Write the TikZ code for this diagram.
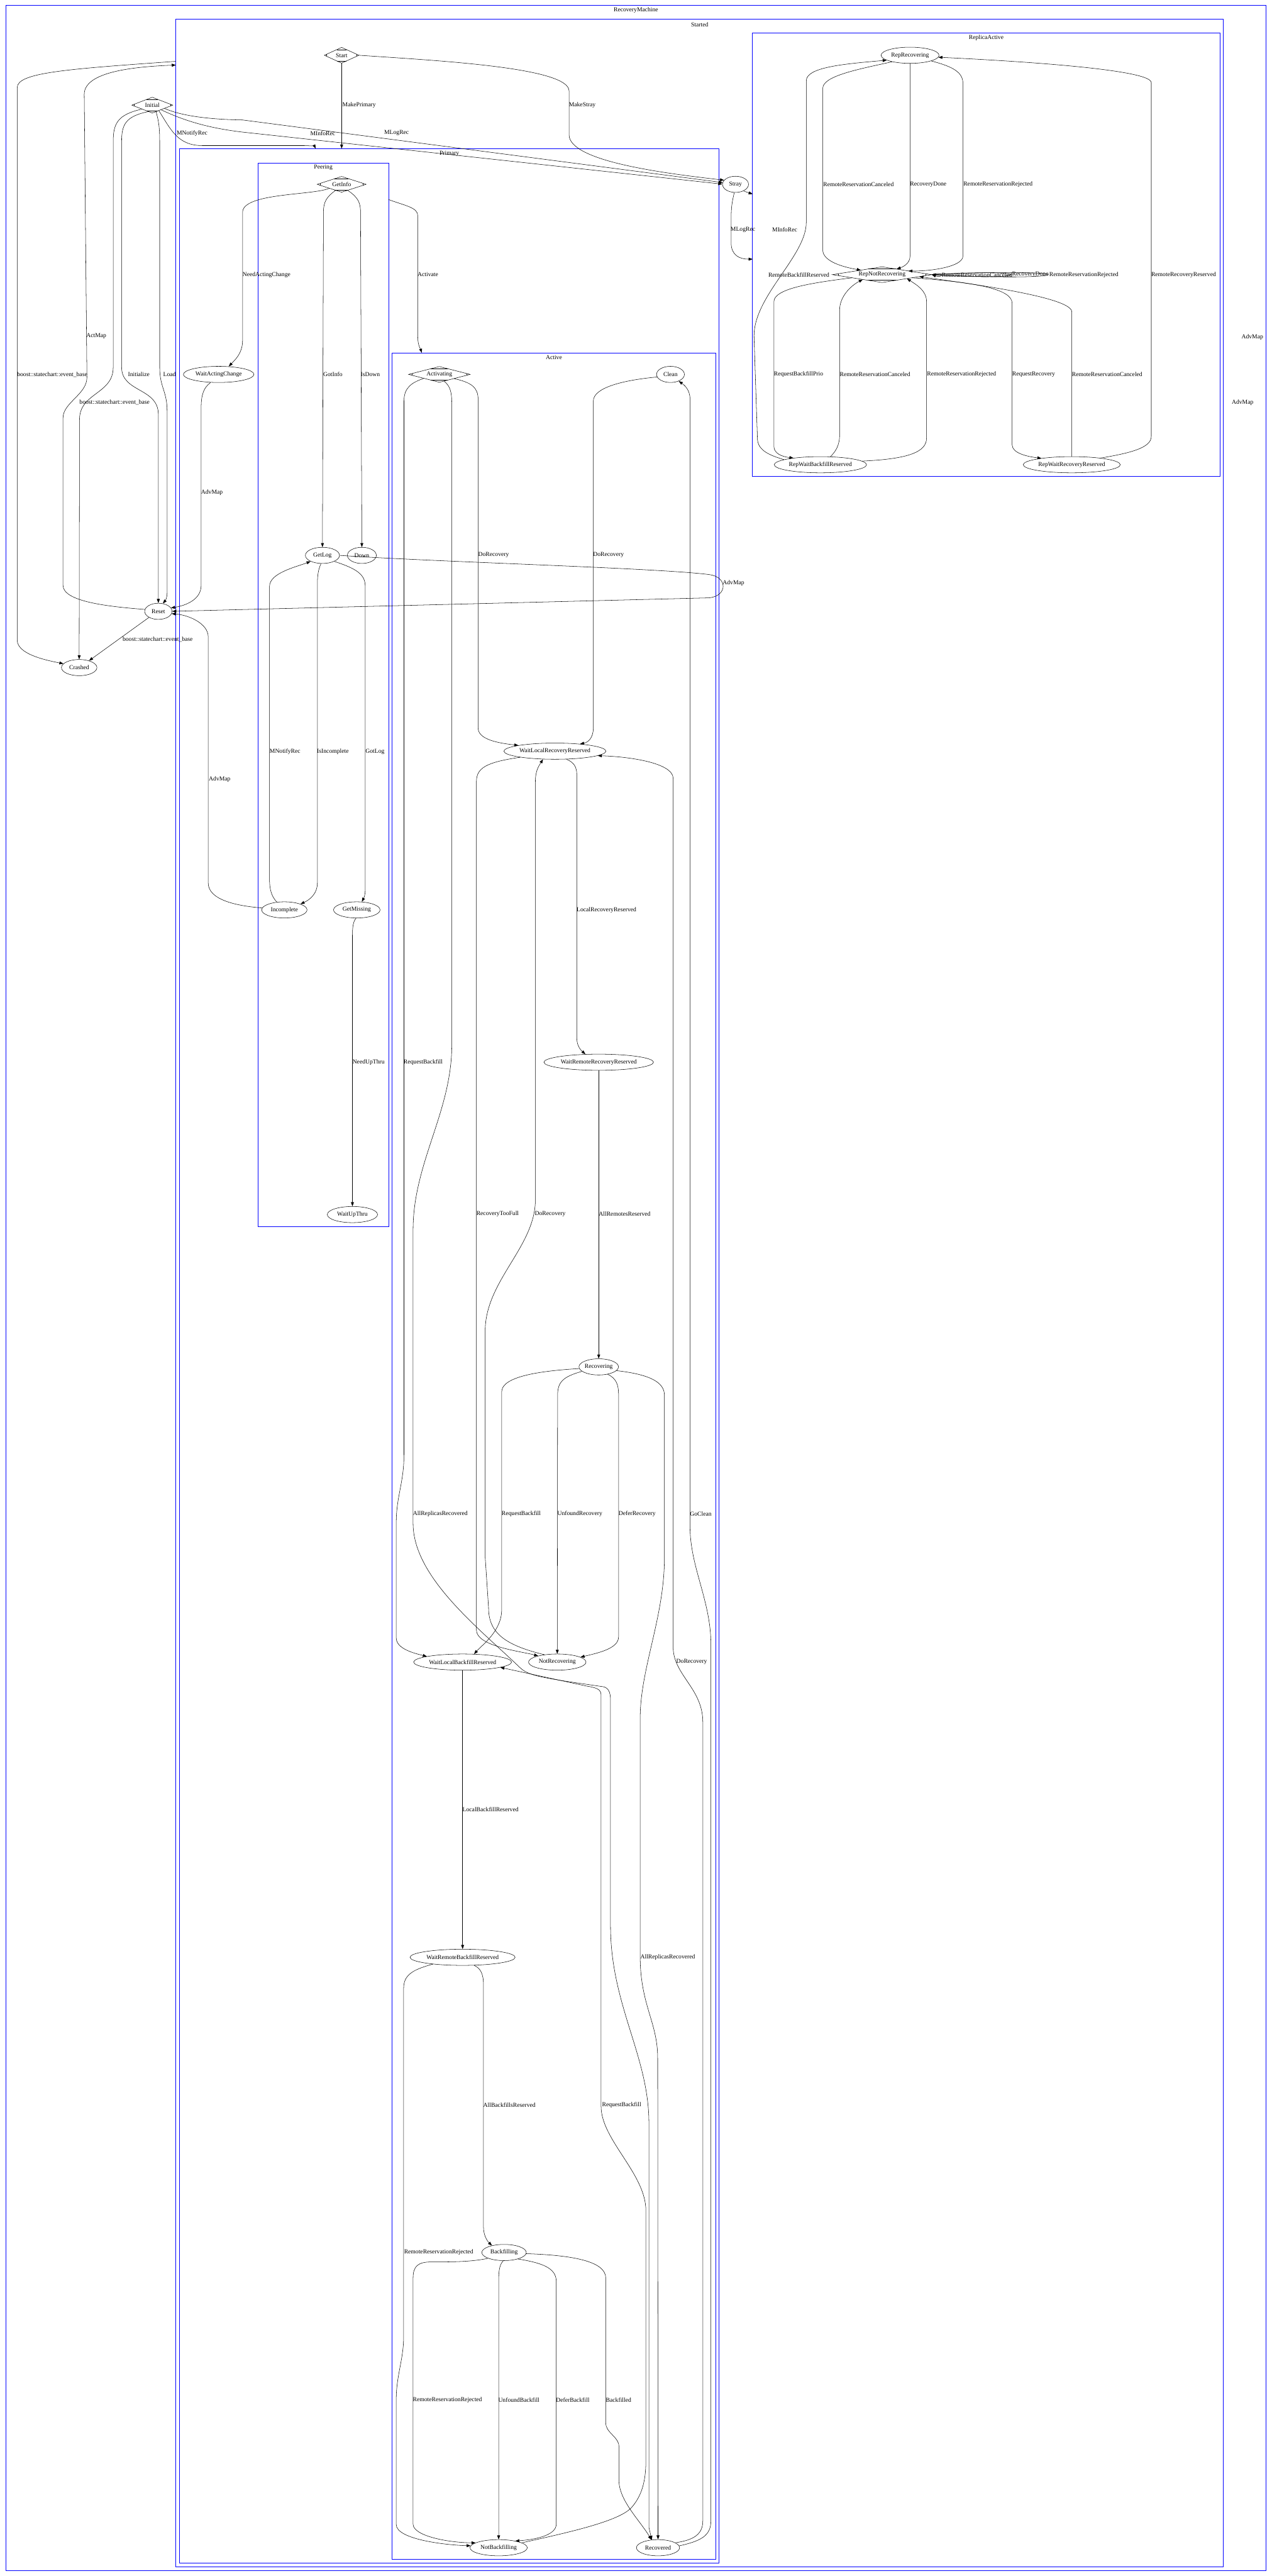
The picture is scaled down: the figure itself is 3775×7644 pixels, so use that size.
\documentclass[tikz,border=0pt]{standalone}
\usepackage{fontspec}
\setmainfont{Liberation Serif}
\usetikzlibrary{shapes.geometric, arrows.meta, fit, calc}
\tikzset{
    font=\fontsize{13.5}{16}\selectfont,
    >={Triangle[length=9pt, width=6.5pt]},
    % Clusters
    clus/.style={draw=blue, line width=0.8pt, inner sep=0pt},
    % States
    st/.style={ellipse, draw, line width=0.75pt, inner sep=0pt, minimum height=36pt},
    mdia/.style={diamond, draw, line width=0.75pt, inner sep=0pt, outer sep=0pt, minimum height=35pt},
    % Flow & Labels
    flow/.style={->, line width=0.75pt},
    lbl/.style={inner sep=0pt, align=center}
}
% corner marks of an Mdiamond
\newcommand{\mdmarks}[1]{%
  \draw[line width=0.75pt] ($(#1.north)!.28!(#1.west)$) -- ($(#1.north)!.28!(#1.east)$)
    ($(#1.south)!.28!(#1.west)$) -- ($(#1.south)!.28!(#1.east)$)
    ($(#1.west)!.12!(#1.north)$) -- ($(#1.west)!.12!(#1.south)$)
    ($(#1.east)!.12!(#1.north)$) -- ($(#1.east)!.12!(#1.south)$);}

\begin{document}
\begin{tikzpicture}[x=0.75pt, y=-0.75pt]

\fill[white] (0,0) rectangle (3775,7644);
\useasboundingbox (0,0) rectangle (3775,7644);

% Clusters
\node[clus, fit={(17,15) (3758,7628)}] (recm) {};
\node[clus, fit={(522,57) (3631,7616)}] (started) {};
\node[clus, fit={(2233,98) (3621,1413)}] (replica) {};
\node[clus, fit={(533,441) (2134,7606)}] (primary) {};
\node[clus, fit={(766,483) (1153,3639)}] (peering) {};
\node[clus, fit={(1164,1047) (2124,7594)}] (active) {};
\node[lbl] at ($(recm.north)+(0,16)$) {RecoveryMachine};
\node[lbl] at ($(started.north)+(0,16)$) {Started};
\node[lbl] at ($(replica.north)+(0,15)$) {ReplicaActive};
\node[lbl] at ($(primary.north)+(0,15)$) {Primary};
\node[lbl] at ($(peering.north)+(0,15)$) {Peering};
\node[lbl] at ($(active.north)+(0,15)$) {Active};

% States
\node[st, minimum width=79pt] (crashed) at (235,1981) {Crashed};
\node[mdia, minimum width=91pt, aspect=2.6] (initial) at (452,312) {Initial};
\node[st, minimum width=61pt] (reset) at (470,1814) {Reset};
\node[mdia, minimum width=77pt, aspect=2.2] (start) at (1014,164) {Start};
\node[st, minimum width=58pt] (stray) at (2183,547) {Stray};
\node[mdia, minimum width=109pt, aspect=3.1] (getinfo) at (1014,547) {GetInfo};
\node[st, minimum width=76pt] (getlog) at (957,1648) {GetLog};
\node[st, minimum width=64.5pt] (down) at (1074,1648) {Down};
\node[st, minimum width=101pt] (incomplete) at (844,2700) {Incomplete};
\node[st, minimum width=103.5pt] (getmissing) at (1059,2700) {GetMissing};
\node[st, minimum width=112pt] (waitupthru) at (1046,3604) {WaitUpThru};
\node[st, minimum width=157pt] (waitacting) at (649,1111) {WaitActingChange};
\node[mdia, minimum width=137pt, aspect=3.9] (activating) at (1304,1111) {Activating};
\node[st, minimum width=62pt] (clean) at (1990,1111) {Clean};
\node[st, minimum width=227pt] (wlrr) at (1647,2229) {WaitLocalRecoveryReserved};
\node[st, minimum width=244pt] (wrrr) at (1777,3152) {WaitRemoteRecoveryReserved};
\node[st, minimum width=88pt] (recovering) at (1777,4056) {Recovering};
\node[st, minimum width=218pt] (wlbr) at (1373,4932) {WaitLocalBackfillReserved};
\node[st, minimum width=128pt] (notrec) at (1654,4932) {NotRecovering};
\node[st, minimum width=234pt] (wrbr) at (1373,5808) {WaitRemoteBackfillReserved};
\node[st, minimum width=99pt] (backfilling) at (1496,6684) {Backfilling};
\node[st, minimum width=127.5pt] (notbf) at (1480,7560) {NotBackfilling};
\node[st, minimum width=96pt] (recovered) at (1953,7560) {Recovered};
\node[st, minimum width=129pt] (reprec) at (2701,164) {RepRecovering};
\node[mdia, minimum width=221pt, aspect=6.3] (repnot) at (2618,815) {RepNotRecovering};
\node[st, minimum width=205.5pt] (repwbr) at (2435,1379) {RepWaitBackfillReserved};
\node[st, minimum width=216pt] (repwrr) at (3181,1379) {RepWaitRecoveryReserved};
\foreach \d in {initial, start, getinfo, activating, repnot} \mdmarks{\d};

% Points on cluster borders
\coordinate (stL) at (522,182);
\coordinate (stA) at (522,193);
\coordinate (prA) at (937,441);
\coordinate (prB) at (1014,441);
\coordinate (peA) at (1153,592);
\coordinate (acA) at (1252,1047);
\coordinate (raA) at (2234,769);
\coordinate (raB) at (2234,576);

% RecoveryMachine
\draw[flow] (stL) .. controls (200,205) and (51,215) .. (51,260) -- (51,1899) .. controls (51,1940) and (130,1958) .. (crashed.166);
\draw[flow] (initial.south west) .. controls (350,340) and (336,365) .. (336,420) -- (336,1090) .. controls (336,1170) and (236,1165) .. (236,1245) -- (crashed.north);
\draw[flow] (reset.213) -- (crashed.35);
\draw[flow] (initial.240) .. controls (372,345) and (361,370) .. (361,420) -- (361,1090) .. controls (361,1165) and (470,1150) .. (470,1230) -- (reset.north);
\draw[flow] (initial.300) .. controls (470,355) and (474,375) .. (474,420) -- (474,1090) .. controls (474,1150) and (496,1160) .. (496,1220) -- (496,1760) .. controls (496,1775) and (490,1783) .. (reset.60);
\draw[flow] (reset.172) .. controls (320,1800) and (187,1785) .. (187,1737) -- (187,1240) .. controls (187,1195) and (258,1170) .. (258,1120) -- (250,280) .. controls (250,212) and (400,198) .. (stA);
\draw[flow] (initial.-40) .. controls (505,380) and (525,432) .. (600,432) -- (900,432) .. controls (922,432) and (934,435) .. (prA);
\draw[flow] (initial.-15) .. controls (530,340) and (600,354) .. (720,356) -- (stray.172);
\draw[flow] (initial.-28) .. controls (530,350) and (600,378) .. (720,392) -- (stray.179);

% Started
\draw[flow] (start.south) -- (prB);
\draw[flow] (start.east) .. controls (1300,180) and (1689,200) .. (1689,270) -- (1689,400) .. controls (1689,480) and (1980,515) .. (stray.160);
\draw[flow] (stray.262) .. controls (2172,600) and (2170,620) .. (2170,650) -- (2170,720) .. controls (2170,758) and (2195,769) .. (raA);
\draw[flow] (stray.-40) -- (raB);
\draw[flow] (waitacting.225) .. controls (605,1150) and (597,1170) .. (597,1210) -- (597,1737) .. controls (597,1780) and (550,1797) .. (reset.15);
\draw[flow] (getlog.east) .. controls (1300,1668) and (1950,1685) .. (2105,1705) .. controls (2160,1712) and (2160,1768) .. (2105,1774) -- (reset.east);
\draw[flow] (incomplete.175) .. controls (700,2688) and (618,2670) .. (618,2620) -- (618,1890) .. controls (618,1850) and (560,1825) .. (reset.-10);

% Peering
\draw[flow] (getinfo.south west) .. controls (930,580) and (720,572) .. (720,630) -- (720,1010) .. controls (720,1050) and (695,1070) .. (waitacting.38);
\draw[flow] (getinfo.225) .. controls (968,585) and (960,600) .. (960,630) -- (getlog.north);
\draw[flow] (getinfo.315) .. controls (1062,585) and (1070,600) .. (1070,630) -- (down.north);
\draw[flow] (peA) .. controls (1200,610) and (1240,615) .. (1240,640) -- (1240,1000) .. controls (1240,1025) and (1248,1035) .. (acA);
\draw[flow] (getlog.260) .. controls (945,1690) and (942,1705) .. (942,1735) -- (942,2620) .. controls (942,2655) and (915,2672) .. (incomplete.20);
\draw[flow] (incomplete.134) .. controls (806,2660) and (800,2640) .. (800,2610) -- (800,1740) .. controls (800,1700) and (880,1682) .. (getlog.207);
\draw[flow] (getlog.-27) .. controls (1060,1688) and (1084,1705) .. (1084,1740) -- (1084,2640) .. controls (1084,2660) and (1078,2668) .. (getmissing.58);
\draw[flow] (getmissing.265) .. controls (1048,2735) and (1046,2750) .. (1046,2780) -- (waitupthru.north);

% Active
\draw[flow] (activating.-16) .. controls (1400,1135) and (1419,1150) .. (1419,1185) -- (1419,2160) .. controls (1419,2195) and (1480,2205) .. (wlrr.171);
\draw[flow] (clean.191) .. controls (1850,1128) and (1761,1150) .. (1761,1190) -- (1761,2160) .. controls (1761,2190) and (1745,2203) .. (wlrr.16);
\draw[flow] (recovered.5) .. controls (2080,7540) and (2110,7525) .. (2110,7480) -- (2110,4880) .. controls (2110,4750) and (2048,4650) .. (2048,4530) -- (2048,1185) .. controls (2048,1155) and (2030,1142) .. (clean.-39);
\draw[flow] (recovered.16) .. controls (2060,7537) and (2086,7520) .. (2086,7480) -- (2086,5110) .. controls (2086,5010) and (1998,4970) .. (1998,4888) -- (1998,2310) .. controls (1998,2262) and (1860,2245) .. (wlrr.-6);
\draw[flow] (wlrr.-35) .. controls (1703,2262) and (1712,2275) .. (1712,2300) -- (1712,3080) .. controls (1712,3105) and (1725,3117) .. (wrrr.149);
\draw[flow] (wlrr.190) .. controls (1440,2262) and (1414,2280) .. (1414,2320) -- (1414,4837) .. controls (1414,4885) and (1545,4900) .. (notrec.162);
\draw[flow] (notrec.150) .. controls (1490,4880) and (1450,4840) .. (1450,4770) -- (1440,4620) -- (1440,3950) .. controls (1440,3800) and (1589,3700) .. (1589,3560) -- (1589,2320) .. controls (1589,2285) and (1600,2272) .. (wlrr.214);
\draw[flow] (activating.south west) .. controls (1222,1135) and (1199,1150) .. (1199,1190) -- (1199,4316) .. controls (1199,4400) and (1176,4440) .. (1176,4520) -- (1176,4860) .. controls (1176,4893) and (1230,4906) .. (wlbr.171);
\draw[flow] (activating.-55) .. controls (1335,1145) and (1341,1160) .. (1341,1200) -- (1341,3100) .. controls (1341,3300) and (1226,3450) .. (1226,3650) -- (1226,4520) .. controls (1226,4680) and (1420,4830) .. (1545,4950) .. controls (1570,4972) and (1600,4978) .. (1790,5005) .. controls (1805,5008) and (1812,5020) .. (1812,5045) -- (1812,5714) .. controls (1812,5950) and (1926,6100) .. (1926,6300) -- (1926,7500) -- (recovered.128);
\draw[flow] (wrrr.south) -- (recovering.north);
\draw[flow] (recovering.185) .. controls (1600,4068) and (1489,4085) .. (1489,4130) -- (1489,4776) .. controls (1489,4840) and (1432,4880) .. (wlbr.35);
\draw[flow] (recovering.195) .. controls (1672,4085) and (1655,4100) .. (1655,4140) -- (notrec.north);
\draw[flow] (recovering.-40) .. controls (1830,4090) and (1836,4110) .. (1836,4140) -- (1836,4857) .. controls (1836,4892) and (1775,4905) .. (notrec.12);
\draw[flow] (recovering.-12) .. controls (1925,4078) and (1972,4100) .. (1972,4140) -- (1972,4622) .. controls (1972,4800) and (1900,4950) .. (1900,5100) -- (1900,5804) .. controls (1900,5950) and (1952,6000) .. (1952,6107) -- (recovered.north);
\draw[flow] (wlbr.south) -- (wrbr.north);
\draw[flow] (wrbr.-35) .. controls (1425,5840) and (1435,5855) .. (1435,5890) -- (1435,6609) .. controls (1435,6635) and (1448,6652) .. (backfilling.150);
\draw[flow] (wrbr.193) .. controls (1222,5845) and (1198,5862) .. (1198,5900) -- (1198,6934) .. controls (1198,7000) and (1176,7050) .. (1176,7120) -- (1176,7491) .. controls (1176,7535) and (1320,7552) .. (notbf.176);
\draw[flow] (backfilling.200) .. controls (1400,6712) and (1340,6712) .. (1280,6712) .. controls (1240,6712) and (1226,6725) .. (1226,6760) -- (1226,7490) .. controls (1226,7525) and (1330,7545) .. (notbf.168);
\draw[flow] (backfilling.265) .. controls (1482,6720) and (1480,6740) .. (1480,6770) -- (notbf.north);
\draw[flow] (backfilling.-25) .. controls (1610,6715) and (1651,6730) .. (1651,6770) -- (1651,7490) .. controls (1651,7520) and (1600,7535) .. (notbf.22);
\draw[flow] (backfilling.-3) .. controls (1700,6692) and (1798,6710) .. (1798,6760) -- (1798,7190) .. controls (1798,7220) and (1837,7230) .. (1837,7260) -- (1837,7360) .. controls (1837,7420) and (1900,7480) .. (recovered.130);
\draw[flow] (notbf.12) .. controls (1700,7512) and (1840,7480) .. (1875,7440) .. controls (1910,7400) and (1917,7350) .. (1917,7300) -- (1917,6560) .. controls (1917,6450) and (1784,6350) .. (1784,6250) -- (1784,5030) .. controls (1784,5012) and (1770,5008) .. (1740,5003) -- (wlbr.-8);

% ReplicaActive
\draw[flow] (repwbr.172) .. controls (2280,1350) and (2248,1335) .. (2248,1300) -- (2238,1000) .. controls (2235,880) and (2393,760) .. (2393,660) -- (2393,240) .. controls (2393,200) and (2500,190) .. (reprec.192);
\draw[flow] (reprec.200) .. controls (2550,205) and (2442,225) .. (2442,262) -- (2442,742) .. controls (2442,775) and (2500,792) .. (repnot.168);
\draw[flow] (reprec.south) -- (2701,760) .. controls (2701,782) and (2680,792) .. (repnot.21);
\draw[flow] (reprec.-15) .. controls (2830,198) and (2858,215) .. (2858,248) -- (2858,760) .. controls (2858,792) and (2760,805) .. (repnot.8);
\draw[flow] (repwrr.13) .. controls (3350,1345) and (3417,1330) .. (3417,1295) -- (3417,245) .. controls (3417,205) and (3000,180) .. (reprec.-4);
\draw[flow] (repnot.east) .. controls (2802,803) and (2802,827) .. (repnot.east);
\draw[flow] (repnot.east) .. controls (3078,795) and (3078,835) .. (repnot.east);
\draw[flow] (repnot.east) .. controls (3225,793) and (3225,837) .. (repnot.east);
\draw[flow] (repnot.186) .. controls (2400,840) and (2297,858) .. (2297,895) -- (2297,1325) .. controls (2297,1345) and (2320,1355) .. (repwbr.166);
\draw[flow] (repwbr.39) .. controls (2480,1340) and (2492,1322) .. (2492,1290) -- (2492,920) .. controls (2492,880) and (2525,848) .. (repnot.194);
\draw[flow] (repwbr.5) .. controls (2700,1362) and (2750,1340) .. (2750,1300) -- (2750,895) .. controls (2750,862) and (2720,845) .. (repnot.-9);
\draw[flow] (repnot.-6) .. controls (2900,838) and (3004,858) .. (3004,900) -- (3004,1320) .. controls (3004,1345) and (3050,1355) .. (repwrr.168);
\draw[flow] (repwrr.north) -- (3181,925) .. controls (3181,880) and (2850,838) .. (repnot.-3);

% Edge labels
\node[lbl] at (155,1111) {boost::statechart::event\_base};
\node[lbl] at (340,1194) {boost::statechart::event\_base};
\node[lbl] at (468,1897) {boost::statechart::event\_base};
\node[lbl] at (412,1111) {Initialize};
\node[lbl] at (503,1111) {Load};
\node[lbl] at (286,998) {ActMap};
\node[lbl] at (570,395) {MNotifyRec};
\node[lbl] at (958,395) {MInfoRec};
\node[lbl] at (1177,395) {MLogRec};
\node[lbl] at (1066,312) {MakePrimary};
\node[lbl] at (1728,312) {MakeStray};
\node[lbl] at (2205,681) {MLogRec};
\node[lbl] at (2329,681) {MInfoRec};
\node[lbl] at (791,815) {NeedActingChange};
\node[lbl] at (1270,815) {Activate};
\node[lbl] at (988,1111) {GotInfo};
\node[lbl] at (1099,1111) {IsDown};
\node[lbl] at (629,1462) {AdvMap};
\node[lbl] at (2177,1730) {AdvMap};
\node[lbl] at (846,2230) {MNotifyRec};
\node[lbl] at (988,2230) {IsIncomplete};
\node[lbl] at (1113,2230) {GotLog};
\node[lbl] at (652,2313) {AdvMap};
\node[lbl] at (1094,3152) {NeedUpThru};
\node[lbl] at (1256,3152) {RequestBackfill};
\node[lbl] at (1465,1647) {DoRecovery};
\node[lbl] at (1806,1647) {DoRecovery};
\node[lbl] at (1800,2700) {LocalRecoveryReserved};
\node[lbl] at (1477,3603) {RecoveryTooFull};
\node[lbl] at (1633,3603) {DoRecovery};
\node[lbl] at (1854,3603) {AllRemotesReserved};
\node[lbl] at (1307,4493) {AllReplicasRecovered};
\node[lbl] at (1547,4493) {RequestBackfill};
\node[lbl] at (1721,4493) {UnfoundRecovery};
\node[lbl] at (1891,4493) {DeferRecovery};
\node[lbl] at (2080,4493) {GoClean};
\node[lbl] at (2053,4932) {DoRecovery};
\node[lbl] at (1456,5370) {LocalBackfillReserved};
\node[lbl] at (1982,5808) {AllReplicasRecovered};
\node[lbl] at (1512,6246) {AllBackfillsReserved};
\node[lbl] at (1845,6246) {RequestBackfill};
\node[lbl] at (1302,6684) {RemoteReservationRejected};
\node[lbl] at (1328,7122) {RemoteReservationRejected};
\node[lbl] at (1540,7122) {UnfoundBackfill};
\node[lbl] at (1700,7122) {DeferBackfill};
\node[lbl] at (1836,7122) {Backfilled};
\node[lbl] at (2548,547) {RemoteReservationCanceled};
\node[lbl] at (2755,547) {RecoveryDone};
\node[lbl] at (2962,547) {RemoteReservationRejected};
\node[lbl] at (2371,815) {RemoteBackfillReserved};
\node[lbl] at (2900,815) {RemoteReservationCanceled};
\node[lbl] at (3058,815) {RecoveryDone};
\node[lbl] at (3217,815) {RemoteReservationRejected};
\node[lbl] at (3513,815) {RemoteRecoveryReserved};
\node[lbl] at (2370,1111) {RequestBackfillPrio};
\node[lbl] at (2597,1111) {RemoteReservationCanceled};
\node[lbl] at (2854,1111) {RemoteReservationRejected};
\node[lbl] at (3068,1111) {RequestRecovery};
\node[lbl] at (3286,1111) {RemoteReservationCanceled};
\node[lbl] at (3717,1001) {AdvMap};
\node[lbl] at (3688,1194) {AdvMap};

\end{tikzpicture}
\end{document}
